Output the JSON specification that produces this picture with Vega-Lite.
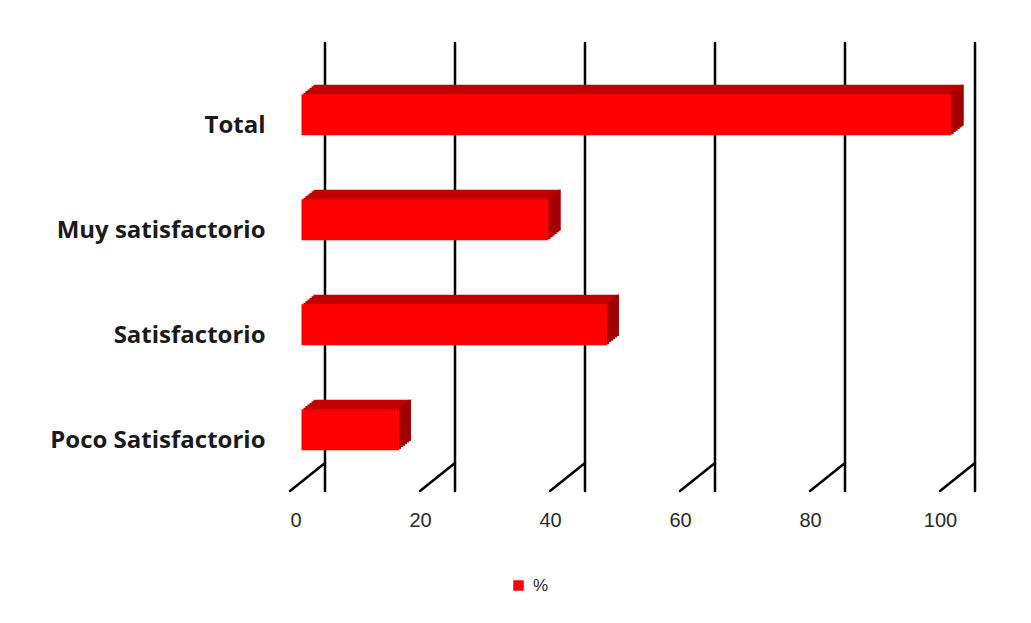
{
  "$schema": "https://vega.github.io/schema/vega-lite/v6.json",
  "width": 715,
  "height": 420,
  "autosize": {"type": "none"},
  "padding": {"left": 290, "top": 71, "right": 26, "bottom": 132},
  "background": "white",
  "config": {
    "view": {"stroke": null},
    "axisX": {
      "domain": false, "ticks": false, "grid": false,
      "labelPadding": 19, "labelFont": "Liberation Sans", "labelFontSize": 20,
      "labelColor": "#2a2a2a"
    },
    "axisY": {
      "domain": false, "ticks": false, "grid": false, "labelLimit": 0,
      "labelPadding": 25, "labelFont": "Open Sans", "labelFontWeight": "bold",
      "labelFontSize": 24, "labelColor": "#1a1a1a", "labelOffset": 2
    }
  },
  "datasets": {
    "ticks": [{"v": 0}, {"v": 20}, {"v": 40}, {"v": 60}, {"v": 80}, {"v": 100}],
    "survey": [
      {"categoria": "Total", "pct": 100},
      {"categoria": "Muy satisfactorio", "pct": 38},
      {"categoria": "Satisfactorio", "pct": 47},
      {"categoria": "Poco Satisfactorio", "pct": 15}
    ]
  },
  "layer": [
    {
      "data": {"name": "ticks"},
      "mark": {"type": "rule", "color": "#000000", "strokeWidth": 2.5, "strokeCap": "round",
               "xOffset": 35, "yOffset": -28, "y2Offset": -28},
      "encoding": {
        "x": {"field": "v", "type": "quantitative", "title": null,
              "axis": {"values": [0, 20, 40, 60, 80, 100]},
              "scale": {"domain": [0, 110], "nice": false, "zero": false}}
      }
    },
    {
      "data": {"name": "ticks"},
      "mark": {"type": "rule", "color": "#000000", "strokeWidth": 2.5, "strokeCap": "round",
               "x2Offset": 35, "y2Offset": -28},
      "encoding": {
        "x": {"field": "v", "type": "quantitative", "title": null,
              "axis": {"values": [0, 20, 40, 60, 80, 100]}},
        "x2": {"field": "v"},
        "y": {"value": "height"},
        "y2": {"value": "height"}
      }
    },
    {
      "data": {"name": "survey"},
      "encoding": {
        "x": {"field": "pct", "type": "quantitative", "title": null,
              "axis": {"values": [0, 20, 40, 60, 80, 100]}},
        "y": {"field": "categoria", "type": "nominal", "sort": null, "title": null,
              "scale": {"paddingInner": 0, "paddingOuter": 0}}
      },
      "layer": [
        {"mark": {"type": "bar", "height": 41, "color": "#c00000", "xOffset": 23.5, "x2Offset": 23.5, "yOffset": -18.3, "y2Offset": -18.3}},
        {"mark": {"type": "bar", "height": 41, "color": "#c00000", "xOffset": 21.5, "x2Offset": 21.5, "yOffset": -16.7, "y2Offset": -16.7}},
        {"mark": {"type": "bar", "height": 41, "color": "#c00000", "xOffset": 19.5, "x2Offset": 19.5, "yOffset": -15.1, "y2Offset": -15.1}},
        {"mark": {"type": "bar", "height": 41, "color": "#c00000", "xOffset": 17.5, "x2Offset": 17.5, "yOffset": -13.5, "y2Offset": -13.5}},
        {"mark": {"type": "bar", "height": 41, "color": "#c00000", "xOffset": 15.5, "x2Offset": 15.5, "yOffset": -11.9, "y2Offset": -11.9}},
        {"mark": {"type": "bar", "height": 41, "color": "#c00000", "xOffset": 13.5, "x2Offset": 13.5, "yOffset": -10.3, "y2Offset": -10.3}},
        {
          "mark": {"type": "bar", "height": 41, "color": "#a00000", "xOffset": 21.5, "x2Offset": 23.5, "yOffset": -18.3, "y2Offset": -18.3},
          "encoding": {"x": {"field": "pct", "type": "quantitative", "title": null, "axis": {"values": [0, 20, 40, 60, 80, 100]}}, "x2": {"field": "pct"}}
        },
        {
          "mark": {"type": "bar", "height": 41, "color": "#a00000", "xOffset": 19.5, "x2Offset": 21.5, "yOffset": -16.7, "y2Offset": -16.7},
          "encoding": {"x": {"field": "pct", "type": "quantitative", "title": null, "axis": {"values": [0, 20, 40, 60, 80, 100]}}, "x2": {"field": "pct"}}
        },
        {
          "mark": {"type": "bar", "height": 41, "color": "#a00000", "xOffset": 17.5, "x2Offset": 19.5, "yOffset": -15.1, "y2Offset": -15.1},
          "encoding": {"x": {"field": "pct", "type": "quantitative", "title": null, "axis": {"values": [0, 20, 40, 60, 80, 100]}}, "x2": {"field": "pct"}}
        },
        {
          "mark": {"type": "bar", "height": 41, "color": "#a00000", "xOffset": 15.5, "x2Offset": 17.5, "yOffset": -13.5, "y2Offset": -13.5},
          "encoding": {"x": {"field": "pct", "type": "quantitative", "title": null, "axis": {"values": [0, 20, 40, 60, 80, 100]}}, "x2": {"field": "pct"}}
        },
        {
          "mark": {"type": "bar", "height": 41, "color": "#a00000", "xOffset": 13.5, "x2Offset": 15.5, "yOffset": -11.9, "y2Offset": -11.9},
          "encoding": {"x": {"field": "pct", "type": "quantitative", "title": null, "axis": {"values": [0, 20, 40, 60, 80, 100]}}, "x2": {"field": "pct"}}
        },
        {
          "mark": {"type": "bar", "height": 41, "color": "#a00000", "xOffset": 11.5, "x2Offset": 13.5, "yOffset": -10.3, "y2Offset": -10.3},
          "encoding": {"x": {"field": "pct", "type": "quantitative", "title": null, "axis": {"values": [0, 20, 40, 60, 80, 100]}}, "x2": {"field": "pct"}}
        },
        {
          "mark": {"type": "bar", "height": 41, "xOffset": 11.5, "x2Offset": 11.5, "yOffset": -8.7, "y2Offset": -8.7},
          "encoding": {
            "color": {
              "datum": "%", "type": "nominal",
              "scale": {"range": ["#ff0000"]},
              "legend": {
                "title": null, "orient": "none", "legendX": 220, "legendY": 506,
                "symbolType": "square", "symbolSize": 110, "symbolStrokeWidth": 0,
                "labelFont": "Liberation Sans", "labelFontSize": 17, "labelColor": "#2a2a2a",
                "labelOffset": 6
              }
            }
          }
        }
      ]
    }
  ]
}
